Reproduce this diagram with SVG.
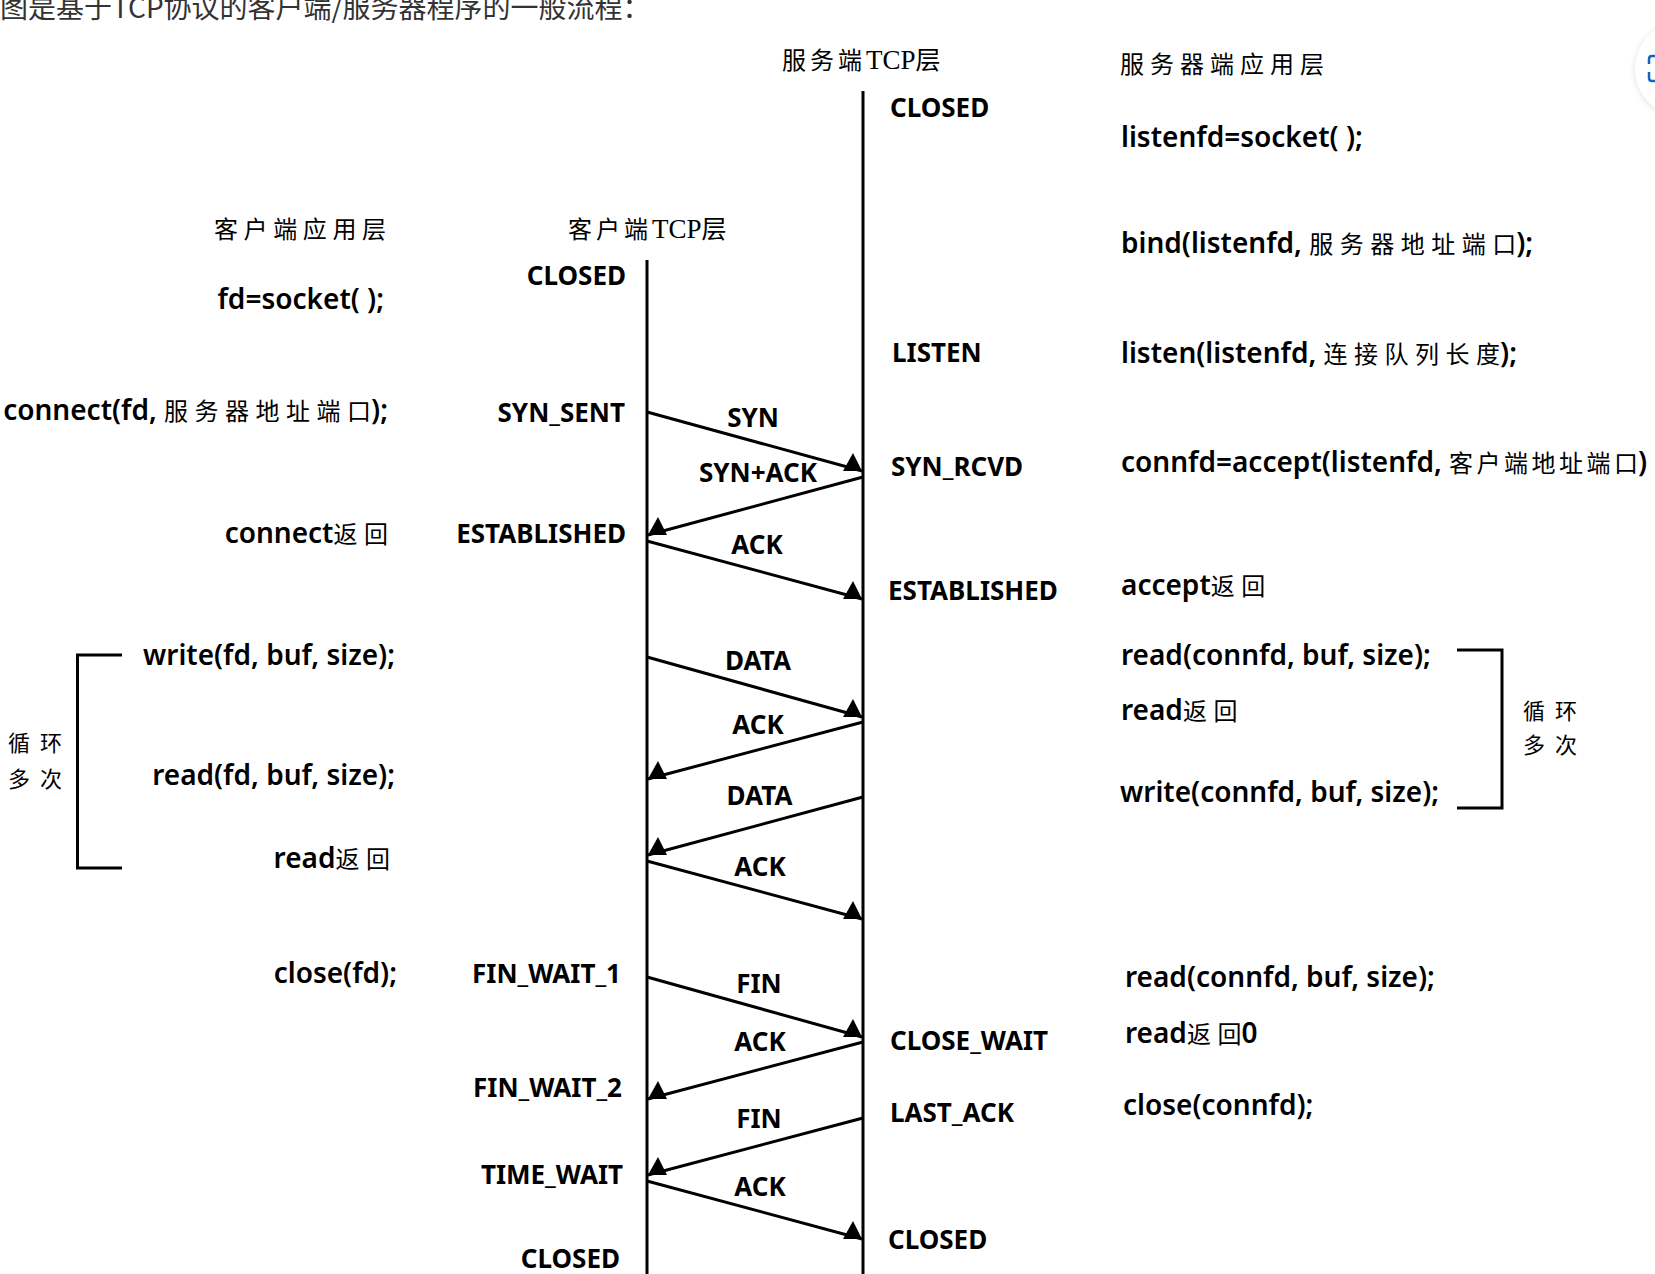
<svg xmlns="http://www.w3.org/2000/svg" xmlns:xlink="http://www.w3.org/1999/xlink" width="1655" height="1274" viewBox="0 0 1655 1274">
<defs>
<style>
.bg{fill:#ffffff}
.life{stroke:#000;stroke-width:3;fill:none}
.msg{stroke:#000;stroke-width:3;fill:none}
.brk{stroke:#000;stroke-width:3;fill:none}
.st{font-family:"Noto Sans","Open Sans","Noto Sans CJK SC",sans-serif;font-weight:700;font-size:26px;fill:#000}
.code{font-family:"Noto Sans","Open Sans","Noto Sans CJK SC",sans-serif;font-weight:600;font-size:28px;fill:#000}
.lbl{font-family:"Noto Sans","Open Sans","Noto Sans CJK SC",sans-serif;font-weight:700;font-size:26px;fill:#000;text-anchor:middle}
.cj{font-family:"Noto Sans CJK SC",sans-serif;font-weight:400;font-size:24px;letter-spacing:6.5px}
.cj0{font-family:"Noto Sans CJK SC",sans-serif;font-weight:400;font-size:24px}
.hd{font-family:"Liberation Serif","Noto Sans CJK SC",serif;font-size:27px;fill:#000}
.hdc{font-family:"Noto Sans CJK SC",sans-serif;font-size:24px}
.end{text-anchor:end}
.title{font-family:"Noto Sans CJK SC","Noto Sans",sans-serif;font-size:28px;fill:#333}
.loop{font-family:"Noto Sans CJK SC",sans-serif;font-size:22px;fill:#000;letter-spacing:10px}
</style>
<path id="tri" d="M0,0 L19,0 L10,-18 Z" fill="#000"/>
<filter id="sh" x="-50%" y="-50%" width="200%" height="200%">
<feGaussianBlur stdDeviation="3"/>
</filter>
</defs>
<rect class="bg" x="0" y="0" width="1655" height="1274"/>

<text class="title" x="0" y="18">图是基于TCP协议的客户端/服务器程序的一般流程：</text>

<g id="side-button">
<circle cx="1683" cy="70" r="48" fill="#000" opacity="0.12" filter="url(#sh)"/>
<circle cx="1683" cy="69" r="48" fill="#fff"/>
<path d="M1656,56 L1652,56 Q1649,56 1649,59 L1649,64 M1656,81 L1652,81 Q1649,81 1649,78 L1649,72" fill="none" stroke="#1565c0" stroke-width="2.5"/>
</g>

<g id="headers">
<text class="hd" x="782" y="69"><tspan class="hdc" style="letter-spacing:4px">服务端</tspan>TCP<tspan class="hdc" style="font-size:25px">层</tspan></text>
<text class="hd" x="1120" y="73"><tspan class="hdc" style="letter-spacing:6px">服务器端应用层</tspan></text>
<text class="hd" x="214" y="238"><tspan class="hdc" style="letter-spacing:5.6px">客户端应用层</tspan></text>
<text class="hd" x="568" y="238"><tspan class="hdc" style="letter-spacing:4px">客户端</tspan>TCP<tspan class="hdc" style="font-size:25px">层</tspan></text>
</g>

<g id="client-lifeline">
<line class="life" x1="647" y1="260" x2="647" y2="1274"/>
</g>
<g id="server-lifeline">
<line class="life" x1="863" y1="91" x2="863" y2="1274"/>
</g>

<g id="client-app">
<text class="code end" x="384" y="309">fd=socket( );</text>
<text class="code end" x="388" y="420">connect(fd, <tspan class="cj">服务器地址端</tspan><tspan class="cj0">口</tspan>);</text>
<text class="code end" x="388" y="543">connect<tspan class="cj">返</tspan><tspan class="cj0">回</tspan></text>
<text class="code end" x="395" y="665">write(fd, buf, size);</text>
<text class="code end" x="395" y="785">read(fd, buf, size);</text>
<text class="code end" x="390" y="868">read<tspan class="cj">返</tspan><tspan class="cj0">回</tspan></text>
<text class="code end" x="397" y="983">close(fd);</text>
<polyline class="brk" points="122,655 77.5,655 77.5,868 122,868"/>
<text class="loop" x="8" y="751">循环</text>
<text class="loop" x="8" y="787">多次</text>
</g>

<g id="client-tcp">
<text class="st end" x="626" y="285">CLOSED</text>
<text class="st end" x="625" y="422">SYN_SENT</text>
<text class="st end" x="626" y="543">ESTABLISHED</text>
<text class="st end" x="621" y="983">FIN_WAIT_1</text>
<text class="st end" x="622" y="1097">FIN_WAIT_2</text>
<text class="st end" x="623" y="1184">TIME_WAIT</text>
<text class="st end" x="620" y="1268">CLOSED</text>
</g>

<g id="server-tcp">
<text class="st" x="890" y="117">CLOSED</text>
<text class="st" x="892" y="362">LISTEN</text>
<text class="st" x="891" y="476">SYN_RCVD</text>
<text class="st" x="888" y="600">ESTABLISHED</text>
<text class="st" x="890" y="1050">CLOSE_WAIT</text>
<text class="st" x="890" y="1122">LAST_ACK</text>
<text class="st" x="888" y="1249">CLOSED</text>
</g>

<g id="server-app">
<text class="code" x="1121" y="147">listenfd=socket( );</text>
<text class="code" x="1121" y="253">bind(listenfd, <tspan class="cj">服务器地址端</tspan><tspan class="cj0">口</tspan>);</text>
<text class="code" x="1121" y="363">listen(listenfd, <tspan class="cj">连接队列长</tspan><tspan class="cj0">度</tspan>);</text>
<text class="code" x="1121" y="472">connfd=accept(listenfd, <tspan class="cj" style="letter-spacing:3.5px">客户端地址端</tspan><tspan class="cj0">口</tspan>)</text>
<text class="code" x="1121" y="595">accept<tspan class="cj">返</tspan><tspan class="cj0">回</tspan></text>
<text class="code" x="1121" y="665">read(connfd, buf, size);</text>
<text class="code" x="1121" y="720">read<tspan class="cj">返</tspan><tspan class="cj0">回</tspan></text>
<text class="code" x="1120" y="802">write(connfd, buf, size);</text>
<polyline class="brk" points="1457,650 1502,650 1502,808 1457,808"/>
<text class="loop" x="1523" y="719">循环</text>
<text class="loop" x="1523" y="753">多次</text>
<text class="code" x="1125" y="987">read(connfd, buf, size);</text>
<text class="code" x="1125" y="1043">read<tspan class="cj">返</tspan><tspan class="cj0">回</tspan>0</text>
<text class="code" x="1123" y="1115">close(connfd);</text>
</g>

<g id="connectors">
<line class="msg" x1="647" y1="412" x2="862" y2="471"/>
<use xlink:href="#tri" href="#tri" x="843" y="471"/>
<text class="lbl" x="753" y="427">SYN</text>

<line class="msg" x1="863" y1="477" x2="648" y2="535"/>
<use xlink:href="#tri" href="#tri" x="648" y="535"/>
<text class="lbl" x="758" y="482">SYN+ACK</text>

<line class="msg" x1="647" y1="541" x2="862" y2="599"/>
<use xlink:href="#tri" href="#tri" x="843" y="599"/>
<text class="lbl" x="757" y="554">ACK</text>

<line class="msg" x1="647" y1="657" x2="862" y2="717"/>
<use xlink:href="#tri" href="#tri" x="843" y="717"/>
<text class="lbl" x="758" y="670">DATA</text>

<line class="msg" x1="863" y1="722" x2="648" y2="779"/>
<use xlink:href="#tri" href="#tri" x="648" y="779"/>
<text class="lbl" x="758" y="734">ACK</text>

<line class="msg" x1="863" y1="797" x2="648" y2="855"/>
<use xlink:href="#tri" href="#tri" x="648" y="855"/>
<text class="lbl" x="759.5" y="805">DATA</text>

<line class="msg" x1="647" y1="861" x2="862" y2="919"/>
<use xlink:href="#tri" href="#tri" x="843" y="919"/>
<text class="lbl" x="760" y="876">ACK</text>

<line class="msg" x1="647" y1="977" x2="862" y2="1037"/>
<use xlink:href="#tri" href="#tri" x="843" y="1037"/>
<text class="lbl" x="759" y="993">FIN</text>

<line class="msg" x1="863" y1="1042" x2="648" y2="1099"/>
<use xlink:href="#tri" href="#tri" x="648" y="1099"/>
<text class="lbl" x="760" y="1051">ACK</text>

<line class="msg" x1="863" y1="1118" x2="648" y2="1175"/>
<use xlink:href="#tri" href="#tri" x="648" y="1175"/>
<text class="lbl" x="759" y="1128">FIN</text>

<line class="msg" x1="647" y1="1181" x2="862" y2="1239"/>
<use xlink:href="#tri" href="#tri" x="843" y="1239"/>
<text class="lbl" x="760" y="1196">ACK</text>
</g>
</svg>
